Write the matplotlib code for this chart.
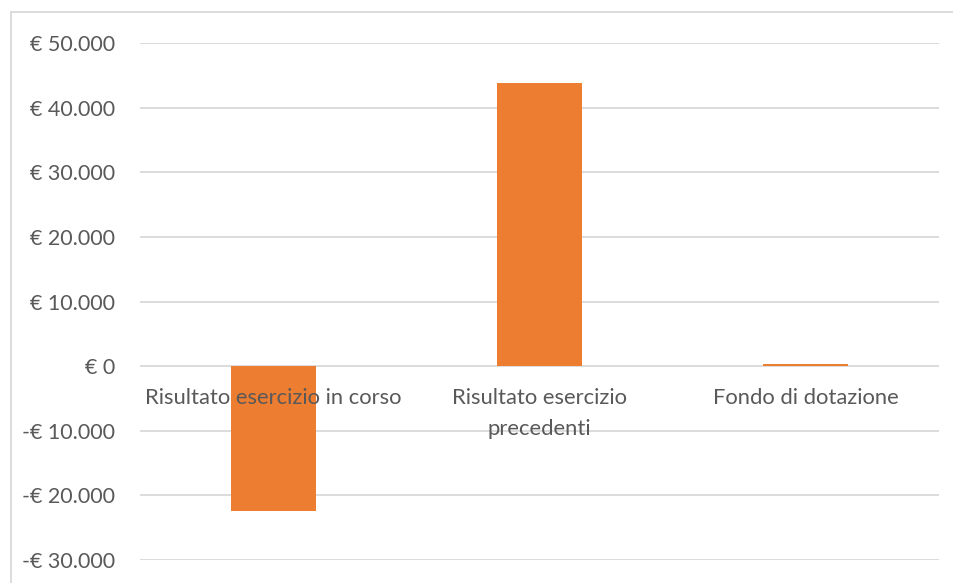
import matplotlib
matplotlib.use("Agg")
import matplotlib.pyplot as plt
from matplotlib.lines import Line2D

categories = ["Risultato esercizio in corso", "Risultato esercizio\nprecedenti", "Fondo di dotazione"]
values = [-22400, 43850, 300]
yticks = [-30000, -20000, -10000, 0, 10000, 20000, 30000, 40000, 50000]

def fmt(v):
    s = f"{abs(v):,}".replace(",", ".")
    return f"-€ {s}" if v < 0 else f"€ {s}"

plt.rcParams['font.family'] = ['Lato', 'DejaVu Sans']
W, H = 954, 583
fig = plt.figure(figsize=(W/100, H/100), dpi=100)
ax = fig.add_axes([140/W, 1-560/H, (939-140)/W, (560-43)/H])

x = list(range(len(categories)))
ax.bar(x, values, width=0.32, color="#ED7D31", zorder=3)
ax.set_xlim(-0.5, 2.5)
ax.set_ylim(-30000, 50000)
ax.set_yticks(yticks)
ax.set_yticklabels([fmt(v) for v in yticks], fontsize=15.5, color="#595959")
ax.tick_params(axis='y', length=0, pad=18)
ax.set_xticks([])
ax.grid(axis='y', color="#d9d9d9", linewidth=1.3, zorder=0)
for s in ax.spines.values():
    s.set_visible(False)

for xi, c in zip(x, categories):
    ax.annotate(c, xy=(xi, 0), xytext=(0, -16), textcoords="offset points",
                ha="center", va="top", fontsize=15.8, color="#595959", zorder=4,
                linespacing=1.68)

fig.add_artist(Line2D([11/W, 11/W], [0, 1-12/H], color="#d9d9d9", linewidth=1.3))
fig.add_artist(Line2D([11/W, 1], [1-12/H, 1-12/H], color="#d9d9d9", linewidth=1.3))

fig.savefig("out.png", dpi=100)
